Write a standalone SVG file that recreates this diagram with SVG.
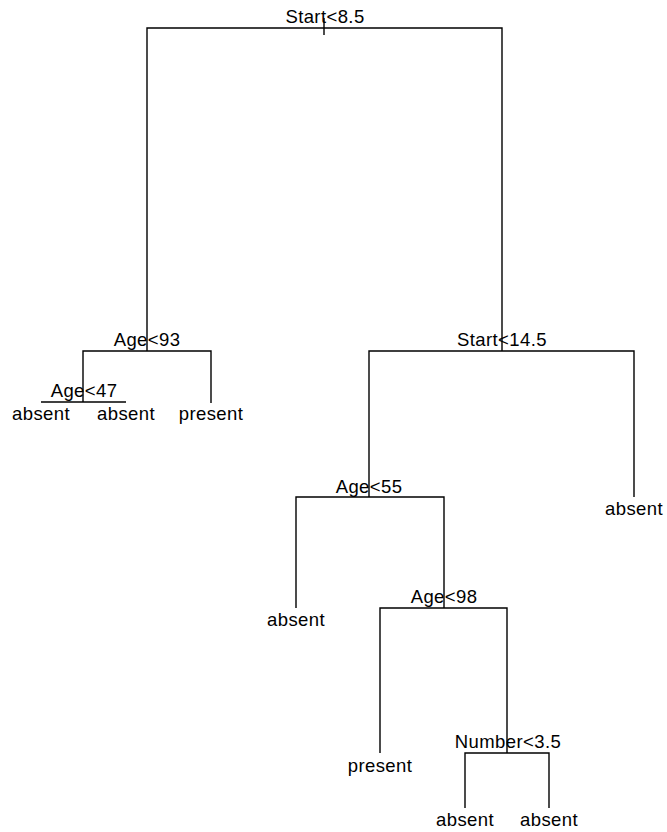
<svg xmlns="http://www.w3.org/2000/svg" width="667" height="832" viewBox="0 0 667 832">
  <style>
    .edge { stroke: #000; stroke-width: 1.4; fill: none; stroke-linecap: butt; }
    text { font-family: "Liberation Sans", Arial, sans-serif; font-size: 18.5px; letter-spacing: 0.4px; fill: #000; text-anchor: middle; }
  </style>
  <rect width="667" height="832" fill="#fff"/>

  <!-- tree branches -->
  <g id="connectors">
    <!-- root: Start<8.5 -->
    <path class="edge" d="M324 18 V35"/>
    <path class="edge" d="M147 351 V28 H502 V351"/>
    <!-- Age<93 -->
    <path class="edge" d="M83 402 V351 H211 V403"/>
    <!-- Age<47 -->
    <path class="edge" d="M41 402 H126"/>
    <!-- Start<14.5 -->
    <path class="edge" d="M369 497 V351 H634 V497"/>
    <!-- Age<55 -->
    <path class="edge" d="M296 608 V497 H444 V608"/>
    <!-- Age<98 -->
    <path class="edge" d="M380 753 V608 H507 V753"/>
    <!-- Number<3.5 -->
    <path class="edge" d="M465 808 V753 H549 V808"/>
  </g>

  <!-- split labels -->
  <g id="n-start85"><text x="325" y="23">Start&lt;8.5</text></g>
  <g id="n-age93"><text x="147" y="346">Age&lt;93</text></g>
  <g id="n-age47"><text x="84" y="397">Age&lt;47</text></g>
  <g id="n-start145"><text x="502" y="346">Start&lt;14.5</text></g>
  <g id="n-age55"><text x="369" y="493">Age&lt;55</text></g>
  <g id="n-age98"><text x="444" y="603">Age&lt;98</text></g>
  <g id="n-number35"><text x="508" y="748">Number&lt;3.5</text></g>

  <!-- leaves -->
  <g id="leaf-1"><text x="41" y="420">absent</text></g>
  <g id="leaf-2"><text x="126" y="420">absent</text></g>
  <g id="leaf-3"><text x="211" y="420">present</text></g>
  <g id="leaf-4"><text x="634" y="515">absent</text></g>
  <g id="leaf-5"><text x="296" y="626">absent</text></g>
  <g id="leaf-6"><text x="380" y="772">present</text></g>
  <g id="leaf-7"><text x="465" y="826">absent</text></g>
  <g id="leaf-8"><text x="549" y="826">absent</text></g>
</svg>
